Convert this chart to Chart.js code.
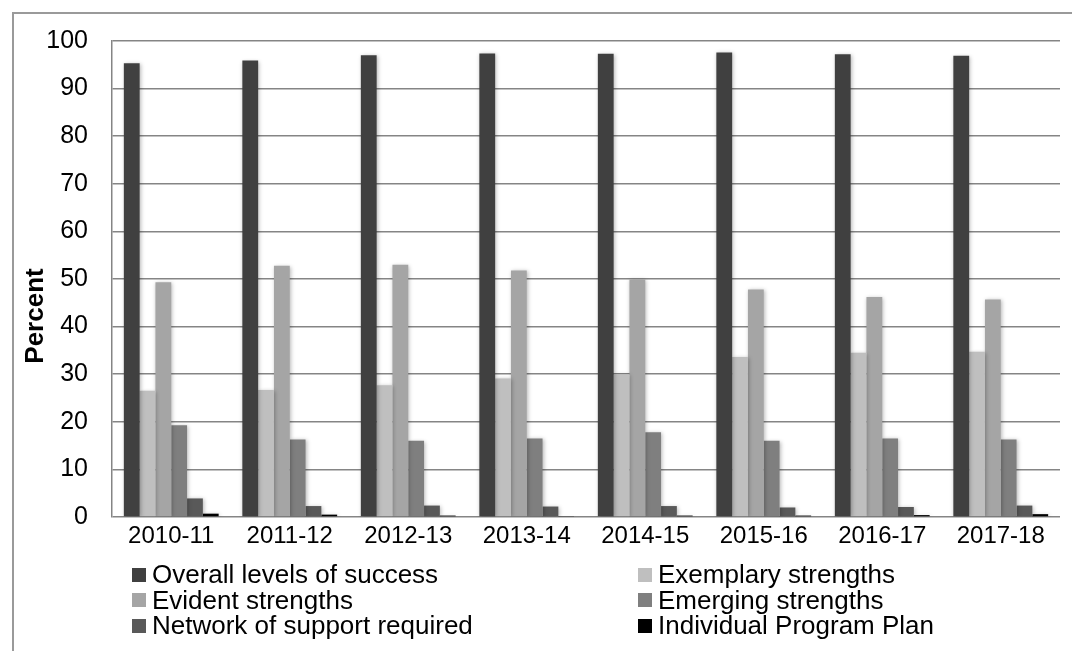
<!DOCTYPE html>
<html>
<head>
<meta charset="utf-8">
<script src="https://cdn.jsdelivr.net/npm/chart.js@4/dist/chart.umd.min.js"></script>
<style>
  html, body { margin: 0; padding: 0; background: #fff; }
  #wrap { position: relative; width: 1072px; height: 651px; overflow: hidden; }
  #frame {
    position: absolute; left: 12px; top: 12px; width: 1100px; height: 700px;
    border-top: 2px solid #9a9a9a; border-left: 2px solid #9a9a9a;
  }
  #chart { position: absolute; left: 0; top: 0; }
  #legend {
    position: absolute; left: 132px; top: 562px;
    display: grid; grid-template-columns: 506px 400px; grid-auto-rows: 25.5px;
    font-family: "Liberation Sans", Arial, sans-serif; font-size: 26px; color: #000;
  }
  #legend .item { display: flex; align-items: center; white-space: nowrap; line-height: 25px; }
  #legend .box { width: 14px; height: 14px; margin-right: 6px; flex: none; }
</style>
</head>
<body>
<div id="wrap">
  <div id="frame"></div>
  <canvas id="chart" width="1072" height="651"></canvas>
  <div id="legend"></div>
</div>
<script>
  // ── DATA ──────────────────────────────────────────────────────────
  const YEARS = ['2010-11', '2011-12', '2012-13', '2013-14', '2014-15', '2015-16', '2016-17', '2017-18'];

  const OVERALL    = [95.3, 95.9, 97.0, 97.4, 97.3, 97.6, 97.2, 96.9];
  const EXEMPLARY  = [26.5, 26.7, 27.7, 29.1, 30.0, 33.6, 34.5, 34.7];
  const EVIDENT    = [49.3, 52.8, 53.0, 51.8, 49.9, 47.8, 46.2, 45.7];
  const EMERGING   = [19.3, 16.3, 16.0, 16.5, 17.8, 16.0, 16.5, 16.3];
  const NETWORK    = [3.9, 2.3, 2.4, 2.2, 2.3, 2.0, 2.1, 2.4];
  const IPP        = [0.7, 0.5, 0.3, 0.2, 0.3, 0.3, 0.4, 0.6];

  const SERIES_NAMES = [
    'Overall levels of success', 'Exemplary strengths', 'Evident strengths',
    'Emerging strengths', 'Network of support required', 'Individual Program Plan'
  ];
  const SERIES_DATA   = [OVERALL, EXEMPLARY, EVIDENT, EMERGING, NETWORK, IPP];
  const SERIES_COLORS = ['#404040', '#bfbfbf', '#a5a5a5', '#7f7f7f', '#595959', '#000000'];

  const Y_TITLE = 'Percent';
  const FONT = "'Liberation Sans', Arial, sans-serif";

  Chart.defaults.color = '#000';
  Chart.defaults.font.family = FONT;

  // soft drop shadow under the bars
  const barShadow = {
    id: 'barShadow',
    beforeDatasetsDraw(chart) {
      const ctx = chart.ctx;
      ctx.save();
      ctx.shadowColor = 'rgba(0,0,0,0.28)';
      ctx.shadowBlur = 4;
      ctx.shadowOffsetX = 1;
      ctx.shadowOffsetY = 1;
    },
    afterDatasetsDraw(chart) {
      chart.ctx.restore();
    }
  };

  // rotated axis title on the left
  const axisTitle = {
    id: 'axisTitle',
    afterDraw(chart) {
      const ctx = chart.ctx;
      ctx.save();
      ctx.translate(36, 316);
      ctx.rotate(-Math.PI / 2);
      ctx.font = 'bold 26px ' + FONT;
      ctx.fillStyle = '#000';
      ctx.textAlign = 'center';
      ctx.textBaseline = 'middle';
      ctx.fillText(Y_TITLE, 0, 0);
      ctx.restore();
    }
  };

  const chart = new Chart(document.getElementById('chart'), {
    type: 'bar',
    data: {
      labels: YEARS,
      datasets: SERIES_NAMES.map((name, i) => ({
        label: name,
        data: SERIES_DATA[i],
        backgroundColor: SERIES_COLORS[i],
        borderWidth: 0,
        categoryPercentage: 0.8,
        barPercentage: 1.0
      }))
    },
    options: {
      responsive: false,
      animation: false,
      layout: { padding: { left: 0, top: 41, right: 12, bottom: 94 } },
      plugins: {
        legend: { display: false },
        tooltip: { enabled: false }
      },
      scales: {
        x: {
          afterFit(scale) { scale.height = 40; },
          grid: { display: false, drawTicks: false },
          border: { display: false },
          ticks: { padding: 5, font: { size: 24 }, color: '#000', maxRotation: 0 }
        },
        y: {
          min: 0,
          max: 100,
          afterFit(scale) { scale.width = 112; },
          grid: { color: '#858585', lineWidth: 1.5, drawTicks: false },
          border: { display: true, color: '#858585', width: 1.5 },
          ticks: { stepSize: 10, padding: 24, font: { size: 25 }, color: '#000' }
        }
      }
    },
    plugins: [barShadow, axisTitle]
  });

  // ── LEGEND (two columns) ─────────────────────────────────────────
  const legend = document.getElementById('legend');
  chart.data.datasets.forEach(ds => {
    const item = document.createElement('div');
    item.className = 'item';
    item.innerHTML = `<span class="box" style="background:${ds.backgroundColor}"></span><span>${ds.label}</span>`;
    legend.appendChild(item);
  });
</script>
</body>
</html>
